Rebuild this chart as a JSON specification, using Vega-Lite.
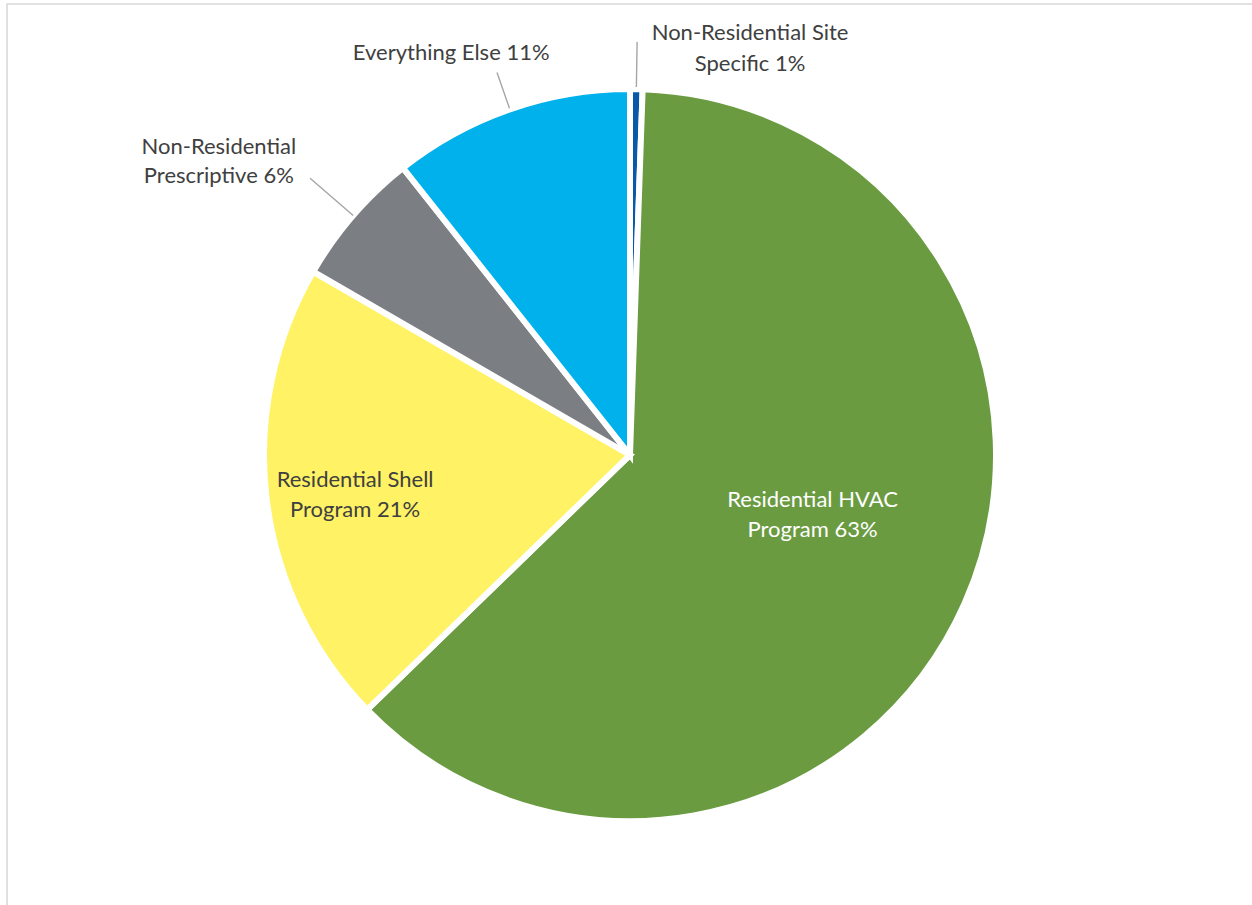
{
  "$schema": "https://vega.github.io/schema/vega-lite/v6.json",
  "width": 1246,
  "height": 902,
  "autosize": {"type": "none"},
  "padding": {"left": 7, "top": 4, "right": 0, "bottom": 0},
  "background": "white",
  "view": {"stroke": "#d9d9d9", "strokeWidth": 1.6, "fill": "white"},
  "config": {"view": {"stroke": "#d9d9d9", "strokeWidth": 1.6}},
  "data": {"values": [
    {"idx": 1, "program": "Non-Residential Site Specific", "share": 0.55, "label": "Non-Residential Site\nSpecific 1%"},
    {"idx": 2, "program": "Residential HVAC Program", "share": 62.2, "label": "Residential HVAC\nProgram 63%"},
    {"idx": 3, "program": "Residential Shell Program", "share": 20.6, "label": "Residential Shell\nProgram 21%"},
    {"idx": 4, "program": "Non-Residential Prescriptive", "share": 6.0, "label": "Non-Residential\nPrescriptive 6%"},
    {"idx": 5, "program": "Everything Else", "share": 10.65, "label": "Everything Else 11%"}
  ]},
  "encoding": {
    "theta": {"field": "share", "type": "quantitative", "stack": true},
    "order": {"field": "idx", "type": "quantitative"}
  },
  "layer": [
    {
      "mark": {"type": "arc", "radius": 366, "stroke": "white", "strokeWidth": 6},
      "encoding": {
        "color": {
          "field": "program", "type": "nominal", "legend": null,
          "scale": {
            "domain": ["Non-Residential Site Specific", "Residential HVAC Program", "Residential Shell Program", "Non-Residential Prescriptive", "Everything Else"],
            "range": ["#0A58A8", "#6A9B41", "#FFF264", "#7B7F83", "#00B1EB"]
          }
        }
      }
    },
    {
      "mark": {"type": "arc", "radius": 413, "radius2": 368, "padAngle": 1.2, "filled": false, "color": "#a6a6a6", "strokeWidth": 1.4},
      "encoding": {"strokeOpacity": {"condition": {"test": "datum.idx === 1", "value": 1}, "value": 0}}
    },
    {
      "mark": {"type": "arc", "radius": 405, "radius2": 367, "padAngle": 1.2, "filled": false, "color": "#a6a6a6", "strokeWidth": 1.4},
      "encoding": {"strokeOpacity": {"condition": {"test": "datum.idx === 5", "value": 1}, "value": 0}}
    },
    {
      "mark": {"type": "arc", "radius": 423, "radius2": 366, "padAngle": 1.2, "filled": false, "color": "#a6a6a6", "strokeWidth": 1.4},
      "encoding": {"strokeOpacity": {"condition": {"test": "datum.idx === 4", "value": 1}, "value": 0}}
    },
    {
      "mark": {"type": "text", "radius": 191, "dx": 8, "dy": -33, "font": "Lato", "fontSize": 22, "lineHeight": 30, "lineBreak": "\n", "align": "center", "baseline": "middle", "color": "white"},
      "encoding": {"text": {"condition": {"test": "datum.idx === 2", "field": "label"}, "value": ""}}
    },
    {
      "mark": {"type": "text", "radius": 278, "dx": 1, "dy": -9, "font": "Lato", "fontSize": 22, "lineHeight": 30, "lineBreak": "\n", "align": "center", "baseline": "middle", "color": "#404040"},
      "encoding": {"text": {"condition": {"test": "datum.idx === 3", "field": "label"}, "value": ""}}
    },
    {
      "mark": {"type": "text", "radius": 410, "dx": 113, "dy": -12, "font": "Lato", "fontSize": 22, "lineHeight": 31, "lineBreak": "\n", "align": "center", "baseline": "middle", "color": "#404040"},
      "encoding": {"text": {"condition": {"test": "datum.idx === 1", "field": "label"}, "value": ""}}
    },
    {
      "mark": {"type": "text", "radius": 438, "dx": -35, "dy": 12, "font": "Lato", "fontSize": 22, "lineHeight": 30, "lineBreak": "\n", "align": "center", "baseline": "middle", "color": "#404040"},
      "encoding": {"text": {"condition": {"test": "datum.idx === 5", "field": "label"}, "value": ""}}
    },
    {
      "mark": {"type": "text", "radius": 504, "dx": -30, "dy": 22, "font": "Lato", "fontSize": 22, "lineHeight": 29, "lineBreak": "\n", "align": "center", "baseline": "middle", "color": "#404040"},
      "encoding": {"text": {"condition": {"test": "datum.idx === 4", "field": "label"}, "value": ""}}
    }
  ]
}
